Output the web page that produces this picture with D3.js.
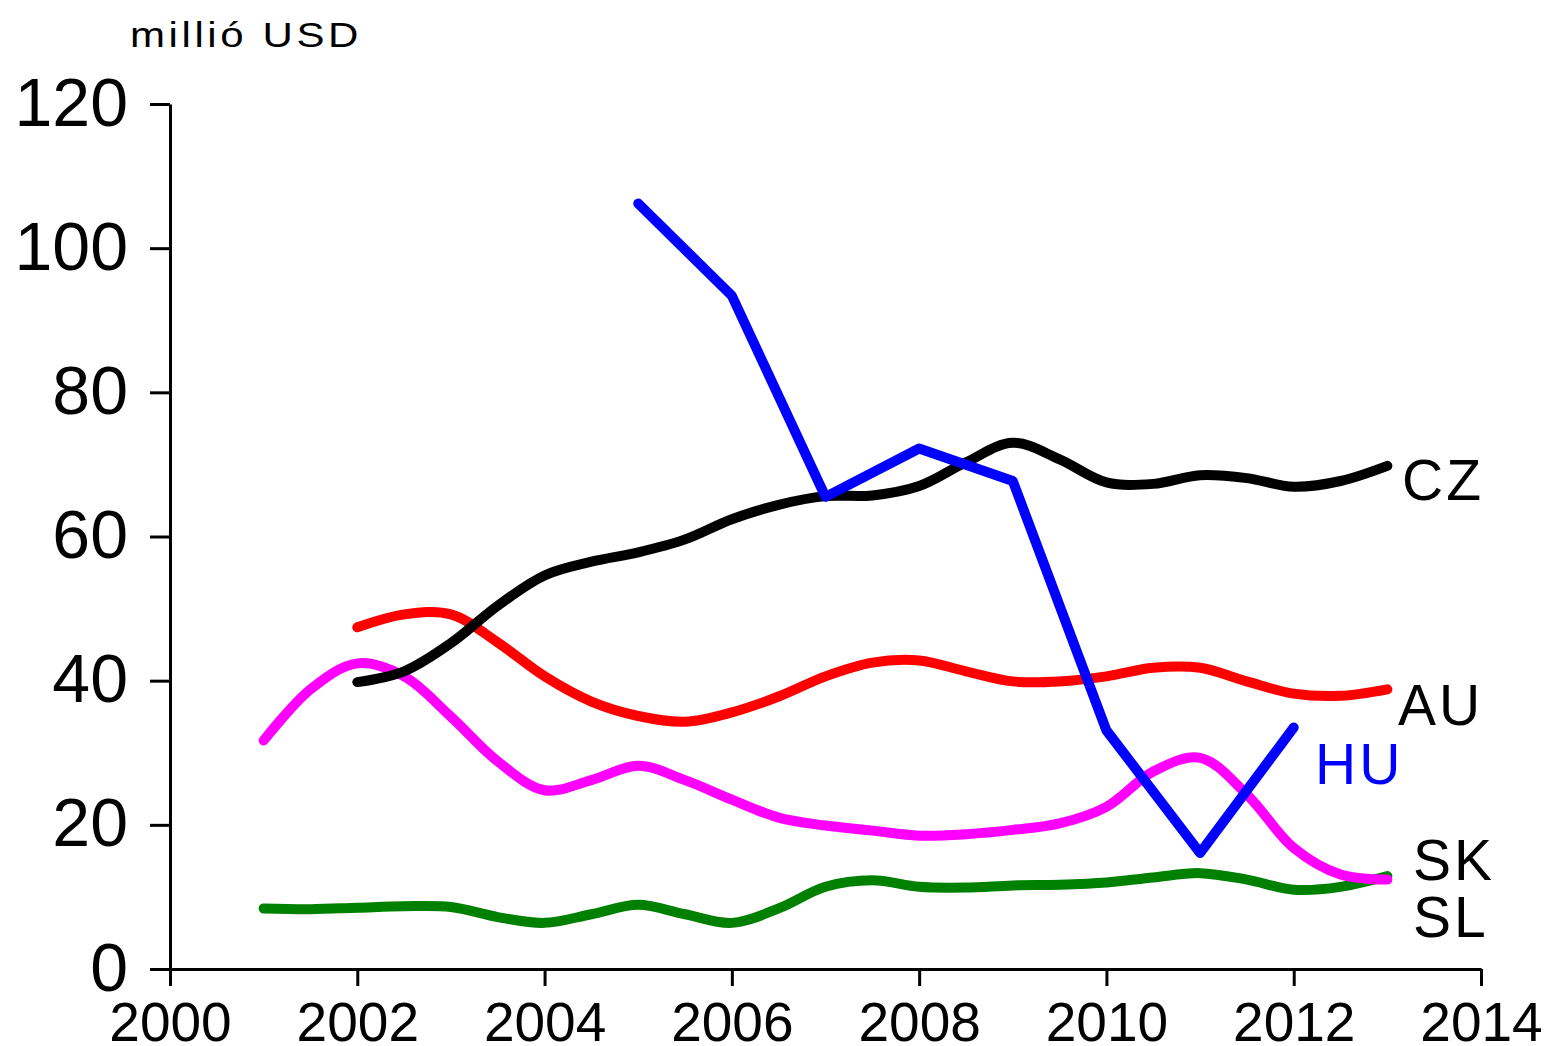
<!DOCTYPE html>
<html>
<head>
<meta charset="utf-8">
<script src="https://cdn.jsdelivr.net/npm/d3@7/dist/d3.min.js"></script>
<style>
	body { margin: 0; background: #fff; }
	svg { display: block; font-family: 'Liberation Sans', Arial, sans-serif; }
	.axis path, .axis line { stroke: #000; stroke-width: 3; }
	.series { fill: none; stroke-width: 10; stroke-linecap: round; stroke-linejoin: round; }
</style>
</head>
<body>
<script>
// time points (half-year readings) for the smoothed series
var tSK = [2001, 2001.5, 2002, 2002.5, 2003, 2003.5, 2004, 2004.5, 2005, 2005.5, 2006, 2006.5,
	2007, 2007.5, 2008, 2008.5, 2009, 2009.5, 2010, 2010.5, 2011, 2011.5, 2012, 2012.5, 2013];
var tCZ = [2002, 2002.5, 2003, 2003.5, 2004, 2004.5, 2005, 2005.5, 2006, 2006.5,
	2007, 2007.5, 2008, 2008.5, 2009, 2009.5, 2010, 2010.5, 2011, 2011.5, 2012, 2012.5, 2013];

var skValues = [31.7, 38.8, 42.4, 40.6, 35.0, 28.8, 24.8, 26.2, 28.2, 26.2, 23.5, 21.0,
	19.9, 19.2, 18.5, 18.7, 19.3, 20.2, 22.5, 27.4, 29.3, 24.2, 16.8, 13.1, 12.4];
var slValues = [8.4, 8.3, 8.5, 8.7, 8.6, 7.2, 6.4, 7.6, 8.9, 7.6, 6.4, 8.4,
	11.4, 12.3, 11.4, 11.3, 11.6, 11.7, 12.0, 12.7, 13.3, 12.4, 11.0, 11.4, 12.9];
var czValues = [39.8, 41.3, 45.2, 50.4, 54.6, 56.5, 57.8, 59.6, 62.4, 64.4,
	65.6, 65.7, 67.0, 70.3, 73.0, 70.7, 67.5, 67.3, 68.5, 68.1, 66.9, 67.7, 69.8];
var auValues = [47.4, 49.2, 49.2, 45.3, 40.6, 37.1, 35.1, 34.3, 35.6, 37.8,
	40.6, 42.5, 42.8, 41.3, 39.9, 39.9, 40.6, 41.8, 41.8, 39.9, 38.2, 37.9, 38.8];

// HU is drawn as straight segments between annual values
var tHU = [2005, 2006, 2007, 2008, 2009, 2010, 2011, 2012];
var huValues = [106.2, 93.4, 65.5, 72.2, 67.7, 33.1, 16.1, 33.5];

var yMajor = [0, 20, 40, 60, 80, 100, 120];
var yMinor = [10, 30, 50, 70, 90, 110];
var xMajor = [2000, 2002, 2004, 2006, 2008, 2010, 2012, 2014];
var xMinor = [2001, 2003, 2005, 2007, 2009, 2011, 2013];

var unitLabel = 'millió USD';

var W = 1549, H = 1046;

var svg = d3.select('body').append('svg')
	.attr('width', W)
	.attr('height', H);

var x = d3.scaleLinear().domain([2000, 2014]).range([170, 1481]);
var y = d3.scaleLinear().domain([0, 120]).range([969, 104]);

// y axis
var yAxis = svg.append('g').attr('class', 'axis').attr('transform', 'translate(170,0)');
yAxis.call(d3.axisLeft(y).tickValues(yMinor).tickSize(11).tickSizeOuter(0).tickFormat(''));
yAxis.call(d3.axisLeft(y).tickValues(yMajor).tickSize(20).tickSizeOuter(0).tickPadding(22).tickFormat(d3.format('d')));
yAxis.selectAll('text')
	.attr('dy', '21px')
	.attr('fill', '#000')
	.style('font-size', '68px');

// x axis
var xAxis = svg.append('g').attr('class', 'axis').attr('transform', 'translate(0,969)');
xAxis.call(d3.axisBottom(x).tickValues(xMinor).tickSize(9).tickSizeOuter(0).tickFormat(''));
xAxis.call(d3.axisBottom(x).tickValues(xMajor).tickSize(17).tickSizeOuter(0).tickFormat(d3.format('d')));
xAxis.selectAll('text')
	.attr('y', 72)
	.attr('dy', 0)
	.attr('fill', '#000')
	.style('font-size', '55px');

// unit label (drawn a little wide, as in the original)
svg.append('text')
	.attr('transform', 'translate(130,47) scale(1.2,1)')
	.style('font-size', '35px')
	.style('letter-spacing', '3px')
	.text(unitLabel);

// series
var smooth = d3.line()
	.x(function (d) { return x(d[0]); })
	.y(function (d) { return y(d[1]); })
	.curve(d3.curveCatmullRom.alpha(0.5));

var straight = d3.line()
	.x(function (d) { return x(d[0]); })
	.y(function (d) { return y(d[1]); });

function pairs(ts, vs) {
	return ts.map(function (t, i) { return [t, vs[i]]; });
}

var series = [
	{ name: 'SL', color: '#008000', data: pairs(tSK, slValues), line: smooth },
	{ name: 'SK', color: '#ff00ff', data: pairs(tSK, skValues), line: smooth },
	{ name: 'AU', color: '#ff0000', data: pairs(tCZ, auValues), line: smooth },
	{ name: 'CZ', color: '#000000', data: pairs(tCZ, czValues), line: smooth },
	{ name: 'HU', color: '#0000ff', data: pairs(tHU, huValues), line: straight }
];

svg.selectAll('.series').data(series).enter().append('path')
	.attr('class', 'series')
	.attr('stroke', function (d) { return d.color; })
	.attr('d', function (d) { return d.line(d.data); });

// series labels
var labels = [
	{ text: 'CZ', x: 1402, y: 500, color: '#000' },
	{ text: 'AU', x: 1398, y: 725, color: '#000' },
	{ text: 'HU', x: 1315, y: 784, color: '#0000ff' },
	{ text: 'SK', x: 1413, y: 880, color: '#000' },
	{ text: 'SL', x: 1413, y: 937, color: '#000' }
];

svg.selectAll('.label').data(labels).enter().append('text')
	.attr('class', 'label')
	.attr('x', function (d) { return d.x; })
	.attr('y', function (d) { return d.y; })
	.attr('fill', function (d) { return d.color; })
	.style('font-size', '57px')
	.style('letter-spacing', '3px')
	.text(function (d) { return d.text; });
</script>
</body>
</html>
